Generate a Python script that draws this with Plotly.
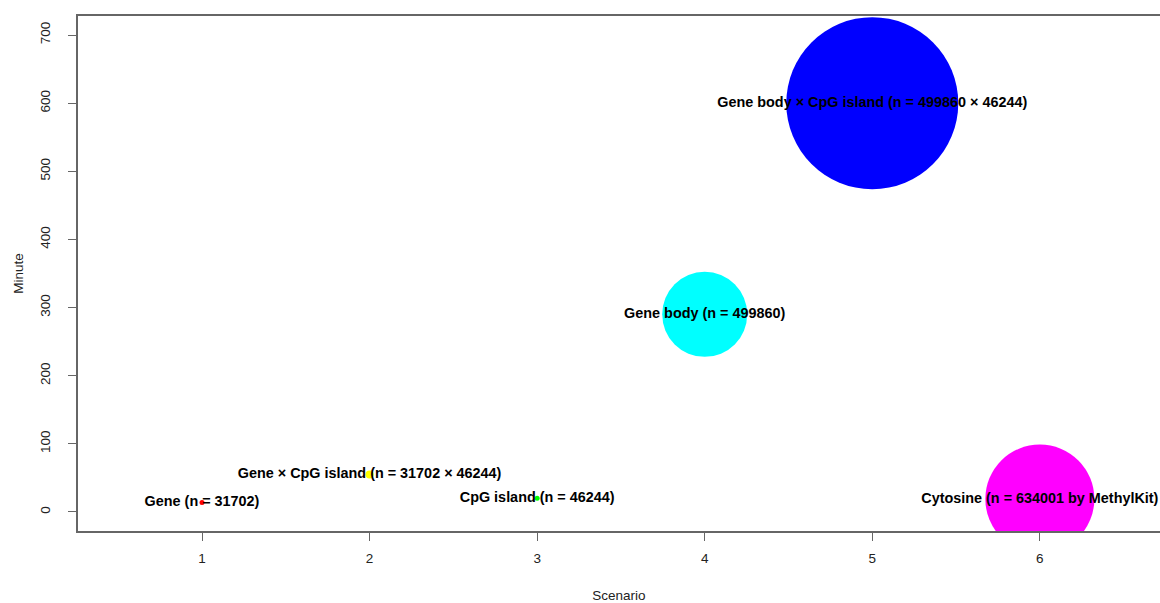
import plotly.graph_objects as go

scenario = [1, 2, 3, 4, 5, 6]
minutes = [14, 55, 20, 290, 600, 19]
labels = [
    "Gene (n = 31702)",
    "Gene × CpG island (n = 31702 × 46244)",
    "CpG island (n = 46244)",
    "Gene body (n = 499860)",
    "Gene body × CpG island (n = 499860 × 46244)",
    "Cytosine (n = 634001 by MethylKit)",
]
colors = ["#ff0000", "#ffff00", "#00ff00", "#00ffff", "#0000ff", "#ff00ff"]
bubble_px = [5, 8, 5, 85, 172, 109]

fig = go.Figure()
fig.add_trace(go.Scatter(
    x=scenario, y=minutes, mode="markers",
    marker=dict(size=bubble_px, color=colors, line=dict(width=0), opacity=1),
    hoverinfo="skip", showlegend=False, cliponaxis=True,
))
fig.add_trace(go.Scatter(
    x=scenario, y=minutes, mode="text", text=labels,
    textposition="middle center",
    textfont=dict(family="Liberation Sans", size=14.4, color="black", weight="bold"),
    hoverinfo="skip", showlegend=False, cliponaxis=False,
))

axis_font = dict(family="Liberation Sans", size=13.5, color="#222")
fig.update_layout(
    width=1160, height=603,
    margin=dict(l=78, r=0, t=16, b=66),
    plot_bgcolor="white", paper_bgcolor="white",
    xaxis=dict(
        range=[0.26, 6.717], tickvals=scenario, ticktext=[str(s) for s in scenario],
        showgrid=False, zeroline=False, showline=True, mirror=True,
        linecolor="#666", linewidth=1.5, ticks="outside", ticklen=8,
        tickcolor="#666", tickfont=axis_font, ticklabelstandoff=6,
        title=dict(text="Scenario", font=axis_font, standoff=28),
    ),
    yaxis=dict(
        range=[-28, 728], tickvals=[0, 100, 200, 300, 400, 500, 600, 700],
        showgrid=False, zeroline=False, showline=True, mirror=False,
        linecolor="#666", linewidth=1.5, ticks="outside", ticklen=8,
        tickcolor="#666", tickfont=axis_font, tickangle=-90, ticklabelstandoff=13,
        title=dict(text="Minute", font=axis_font, standoff=11),
    ),
)
fig.write_html(
    "out.html",
    config={"displayModeBar": False},
    post_script="document.body.style.margin='0';document.body.style.overflow='hidden';",
)
